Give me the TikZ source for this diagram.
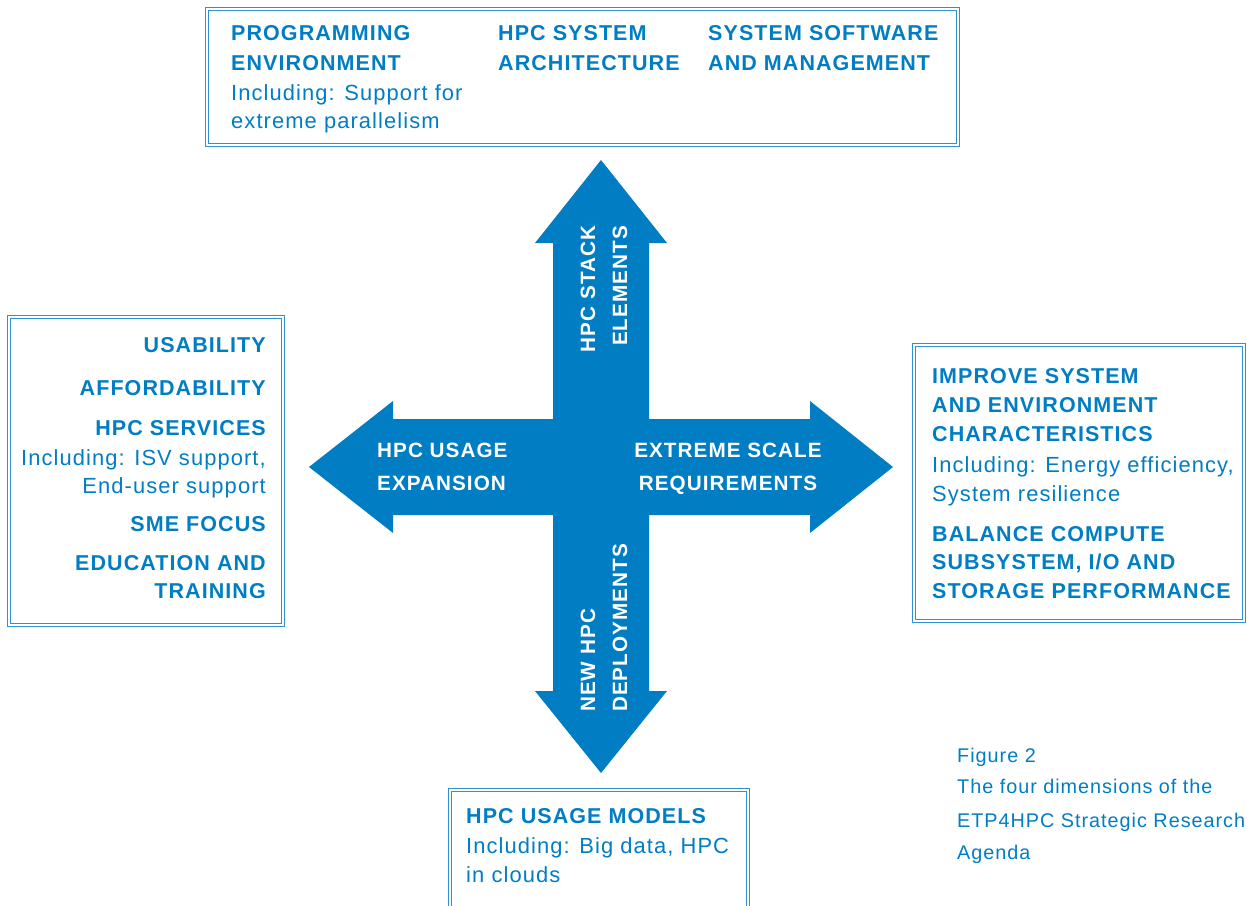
\documentclass[tikz,border=0pt]{standalone}
\usepackage{fontspec}
\setmainfont{Liberation Sans}[LetterSpace=5]
\definecolor{hblue}{RGB}{0,125,195}
\definecolor{bblue}{RGB}{45,145,210}
\tikzset{
  hd/.style={font=\fontsize{21.5}{26}\selectfont\bfseries, text=hblue, inner sep=0pt},
  tx/.style={font=\fontsize{21.9}{26}\selectfont, text=hblue, inner sep=0pt},
  capt/.style={font=\fontsize{19.8}{24}\selectfont, text=hblue, inner sep=0pt},
  ar/.style={font=\fontsize{20.7}{24}\selectfont\bfseries, text=white, inner sep=0pt},
  frame/.style={draw=bblue, double=white, line width=1.1pt, double distance=1.8pt},
}
\begin{document}
\begin{tikzpicture}[x=1pt,y=-1pt]
\useasboundingbox (0,0) rectangle (1247,905);
\clip (0,0) rectangle (1247,905);
% boxes
\draw[frame] (207,9) rectangle (958,145);
\draw[frame] (9,317) rectangle (283,625);
\draw[frame] (914,345) rectangle (1244,621);
\draw[frame] (450,790) rectangle (748,912);
% cross arrow
\fill[hblue] (601,160) -- (667,243) -- (649,243) -- (649,419) -- (810,419) -- (810,401)
  -- (893,467) -- (810,533) -- (810,515) -- (649,515) -- (649,691) -- (667,691)
  -- (601,773) -- (535,691) -- (553,691) -- (553,515) -- (393,515) -- (393,533)
  -- (309,467) -- (393,401) -- (393,419) -- (553,419) -- (553,243) -- (535,243) -- cycle;
% top box text
\node[hd, anchor=base west] (t1) at (231,40) {PROGRAMMING};
\node[hd, anchor=base west] (t2) at (231,70) {ENVIRONMENT};
\node[tx, anchor=base west] (t3) at (231,100) {Including: Support for};
\node[tx, anchor=base west] (t4) at (231,128) {extreme parallelism};
\node[hd, anchor=base west] (t5) at (498,40) {HPC SYSTEM};
\node[hd, anchor=base west] (t6) at (498,70) {ARCHITECTURE};
\node[hd, anchor=base west] (t7) at (708,40) {SYSTEM SOFTWARE};
\node[hd, anchor=base west] (t8) at (708,70) {AND MANAGEMENT};
% left box text
\node[hd, anchor=base east] (l1) at (266,352) {USABILITY};
\node[hd, anchor=base east] (l2) at (266,395) {AFFORDABILITY};
\node[hd, anchor=base east] (l3) at (266,435) {HPC SERVICES};
\node[tx, anchor=base east] (l4) at (266,465) {Including: ISV support,};
\node[tx, anchor=base east] (l5) at (266,493) {End-user support};
\node[hd, anchor=base east] (l6) at (266,531) {SME FOCUS};
\node[hd, anchor=base east] (l7) at (266,570) {EDUCATION AND};
\node[hd, anchor=base east] (l8) at (266,598) {TRAINING};
% right box text
\node[hd, anchor=base west] (r1) at (932,383) {IMPROVE SYSTEM};
\node[hd, anchor=base west] (r2) at (932,412) {AND ENVIRONMENT};
\node[hd, anchor=base west] (r3) at (932,441) {CHARACTERISTICS};
\node[tx, anchor=base west] (r4) at (932,472) {Including: Energy efficiency,};
\node[tx, anchor=base west] (r5) at (932,501) {System resilience};
\node[hd, anchor=base west] (r6) at (932,541) {BALANCE COMPUTE};
\node[hd, anchor=base west] (r7) at (932,569) {SUBSYSTEM, I/O AND};
\node[hd, anchor=base west] (r8) at (932,598) {STORAGE PERFORMANCE};
% bottom box text
\node[hd, anchor=base west] (b1) at (466,823) {HPC USAGE MODELS};
\node[tx, anchor=base west] (b2) at (466,853) {Including: Big data, HPC};
\node[tx, anchor=base west] (b3) at (466,882) {in clouds};
% caption
\node[capt, anchor=base west] (c1) at (957,762) {Figure 2};
\node[capt, anchor=base west] (c2) at (957,793) {The four dimensions of the};
\node[capt, anchor=base west] (c3) at (957,827) {ETP4HPC Strategic Research};
\node[capt, anchor=base west] (c4) at (957,859) {Agenda};
% arrow labels
\node[ar, anchor=base west] (a1) at (377,457) {HPC USAGE};
\node[ar, anchor=base west] (a2) at (377,490) {EXPANSION};
\node[ar, anchor=base] (a3) at (728,457) {EXTREME SCALE};
\node[ar, anchor=base] (a4) at (728,490) {REQUIREMENTS};
\node[ar, rotate=90, anchor=base] (a5) at (595,289) {HPC STACK};
\node[ar, rotate=90, anchor=base] (a6) at (627,286) {ELEMENTS};
\node[ar, rotate=90, anchor=base west] (a7) at (595,712) {NEW HPC};
\node[ar, rotate=90, anchor=base west] (a8) at (627,712) {DEPLOYMENTS};
\end{tikzpicture}
\end{document}
